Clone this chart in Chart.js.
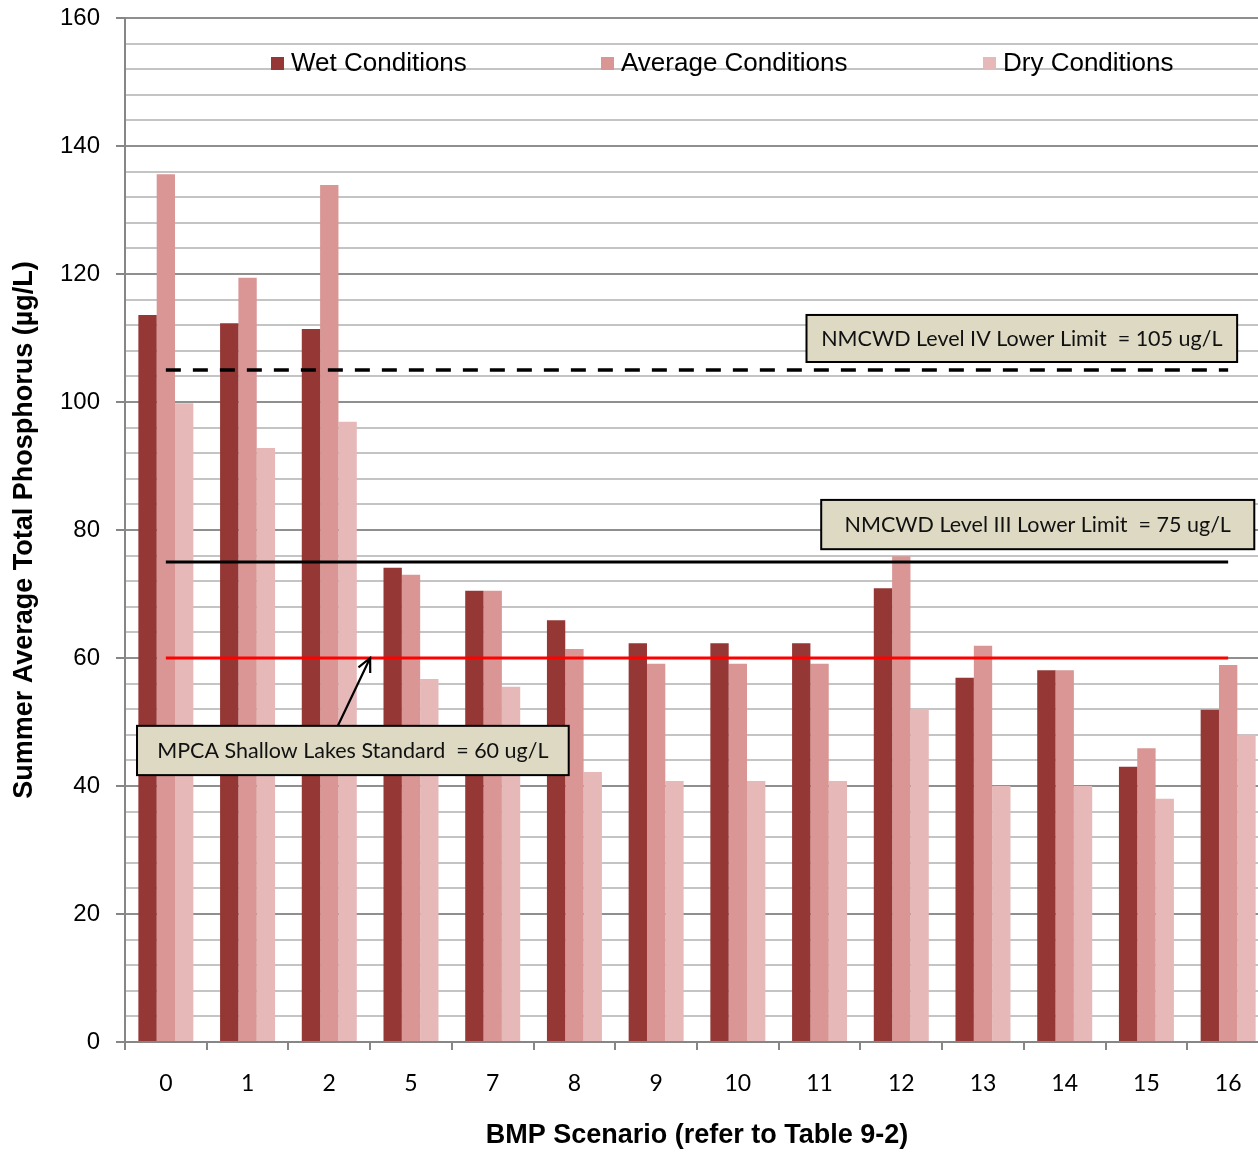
<!DOCTYPE html>
<html>
<head>
<meta charset="utf-8">
<script src="https://cdn.jsdelivr.net/npm/chart.js@4/dist/chart.umd.min.js"></script>
<style>
  html, body { margin: 0; padding: 0; background: #ffffff; overflow: hidden; }
  #wrap { width: 1258px; height: 1152px; overflow: hidden; position: relative; }
  canvas { display: block; }
</style>
</head>
<body>
<div id="wrap"><canvas id="c" width="1272" height="1152"></canvas></div>
<script>
// BMP scenarios and modelled summer-average total phosphorus (ug/L)
const scenarios = ['0', '1', '2', '5', '7', '8', '9', '10', '11', '12', '13', '14', '15', '16'];
const wetConditions     = [113.6, 112.3, 111.4, 74.1, 70.5, 65.9, 62.3, 62.3, 62.3, 70.9, 56.9, 58.1, 43.0, 51.9];
const averageConditions = [135.6, 119.4, 133.9, 73.0, 70.5, 61.4, 59.1, 59.1, 59.1, 75.9, 61.9, 58.1, 45.9, 58.9];
const dryConditions     = [ 99.8,  92.8,  96.9, 56.7, 55.5, 42.2, 40.8, 40.8, 40.8, 51.9, 40.0, 40.0, 38.0, 48.0];

// Reference limits
const levelIVLimit = 105;
const levelIIILimit = 75;
const shallowLakesStandard = 60;

// Labelled y ticks (minor gridlines every 4)
const yTickLabels = [0, 20, 40, 60, 80, 100, 120, 140, 160];

const constant = (v) => scenarios.map(() => v);

// Callout boxes: x in category widths from the left edge of the plot, y in data units
const callouts = [
  { text: 'NMCWD Level IV Lower Limit  = ' + levelIVLimit + ' ug/L', x0: 8.34, x1: 13.61, yTop: 113.6, yBot: 106.25 },
  { text: 'NMCWD Level III Lower Limit  = ' + levelIIILimit + ' ug/L', x0: 8.52, x1: 13.82, yTop: 84.7, yBot: 77.0 },
  { text: 'MPCA Shallow Lakes Standard  = ' + shallowLakesStandard + ' ug/L', x0: 0.147, x1: 5.43, yTop: 49.4, yBot: 41.7,
    arrow: { fromX: 2.605, toX: 3.0, toY: shallowLakesStandard } }
];

const overlayPlugin = {
  id: 'overlay',
  afterDatasetsDraw(chart) {
    const ctx = chart.ctx;
    const area = chart.chartArea;
    const ys = chart.scales.y;
    const cw = (area.right - area.left) / scenarios.length;
    const px = (u) => area.left + u * cw;

    // legend inside the plot
    const legendX = [271, 601, 983];
    ctx.save();
    ctx.font = '26px "Liberation Sans", Arial, sans-serif';
    ctx.textBaseline = 'middle';
    ctx.textAlign = 'left';
    chart.data.datasets.filter(d => d.type !== 'line').forEach((d, i) => {
      ctx.fillStyle = d.backgroundColor;
      ctx.fillRect(legendX[i], 57, 13, 13);
      ctx.fillStyle = '#000000';
      ctx.fillText(d.label, legendX[i] + 20, 64);
    });
    ctx.restore();

    // callout boxes
    ctx.save();
    callouts.forEach(c => {
      const l = px(c.x0), r = px(c.x1);
      const t = ys.getPixelForValue(c.yTop), b = ys.getPixelForValue(c.yBot);
      if (c.arrow) {
        const x0 = px(c.arrow.fromX), y0 = t;
        const x1 = px(c.arrow.toX), y1 = ys.getPixelForValue(c.arrow.toY);
        const ang = Math.atan2(y1 - y0, x1 - x0);
        ctx.strokeStyle = '#000000';
        ctx.lineWidth = 2.2;
        ctx.beginPath();
        ctx.moveTo(x0, y0);
        ctx.lineTo(x1, y1);
        const hl = 15, ha = Math.PI / 7;
        ctx.moveTo(x1 - hl * Math.cos(ang - ha), y1 - hl * Math.sin(ang - ha));
        ctx.lineTo(x1, y1);
        ctx.lineTo(x1 - hl * Math.cos(ang + ha), y1 - hl * Math.sin(ang + ha));
        ctx.stroke();
      }
      ctx.fillStyle = '#ddd9c3';
      ctx.fillRect(l, t, r - l, b - t);
      ctx.strokeStyle = '#000000';
      ctx.lineWidth = 2;
      ctx.strokeRect(l, t, r - l, b - t);
      ctx.fillStyle = '#111111';
      ctx.font = '21.5px Lato, "Open Sans", sans-serif';
      ctx.textAlign = 'center';
      ctx.textBaseline = 'middle';
      ctx.fillText(c.text, (l + r) / 2, (t + b) / 2 + 1);
    });
    ctx.restore();
  }
};

const chart = new Chart(document.getElementById('c'), {
  data: {
    labels: scenarios,
    datasets: [
      { type: 'line', label: 'Level IV', data: constant(levelIVLimit), borderColor: '#000000', borderWidth: 3.5,
        borderDash: [15, 12], pointRadius: 0, fill: false, order: -1 },
      { type: 'line', label: 'Level III', data: constant(levelIIILimit), borderColor: '#000000', borderWidth: 3,
        pointRadius: 0, fill: false, order: -1 },
      { type: 'line', label: 'Shallow Lakes', data: constant(shallowLakesStandard), borderColor: '#ff0000', borderWidth: 3,
        pointRadius: 0, fill: false, order: -1 },
      { type: 'bar', label: 'Wet Conditions', data: wetConditions, backgroundColor: '#953735', order: 1 },
      { type: 'bar', label: 'Average Conditions', data: averageConditions, backgroundColor: '#d99694', order: 1 },
      { type: 'bar', label: 'Dry Conditions', data: dryConditions, backgroundColor: '#e6b9b8', order: 1 }
    ]
  },
  options: {
    responsive: false,
    animation: false,
    devicePixelRatio: 1,
    layout: { padding: { top: 18, right: 3, left: 0, bottom: 0 } },
    datasets: { bar: { categoryPercentage: 0.673, barPercentage: 1.0, borderWidth: 0 } },
    plugins: { legend: { display: false }, tooltip: { enabled: false } },
    scales: {
      x: {
        offset: true,
        grid: { offset: true, drawOnChartArea: false, drawTicks: true, tickLength: 8, color: '#868686', lineWidth: 2 },
        border: { color: '#868686', width: 2 },
        ticks: { color: '#000000', font: { family: 'Lato, "Open Sans", sans-serif', size: 23 }, padding: 20, maxRotation: 0 },
        title: { display: true, text: 'BMP Scenario (refer to Table 9-2)', color: '#000000',
          font: { family: '"Liberation Sans", Arial, sans-serif', size: 27, weight: 'bold' }, padding: { top: 0, bottom: 0 } },
        afterFit(scale) { scale.height = 110; scale.paddingLeft = 0; scale.paddingRight = 0; }
      },
      y: {
        min: 0, max: 160,
        grid: {
          color: (c) => (c.tick && yTickLabels.includes(c.tick.value)) ? '#8f8f8f' : '#c4c4c4',
          tickColor: (c) => (c.tick && yTickLabels.includes(c.tick.value)) ? '#868686' : 'rgba(0,0,0,0)',
          lineWidth: 2,
          tickLength: 9
        },
        border: { color: '#868686', width: 2 },
        ticks: {
          stepSize: 4, autoSkip: false, padding: 16, color: '#000000',
          font: { family: '"Liberation Sans", Arial, sans-serif', size: 24 },
          callback: (v) => yTickLabels.includes(v) ? String(v) : ''
        },
        title: { display: true, text: 'Summer Average Total Phosphorus (µg/L)', color: '#000000',
          font: { family: '"Liberation Sans", Arial, sans-serif', size: 27, weight: 'bold' }, padding: { top: 8, bottom: 0 } },
        afterFit(scale) { scale.width = 125; scale.paddingTop = 0; scale.paddingBottom = 0; }
      }
    }
  },
  plugins: [overlayPlugin]
});
</script>
</body>
</html>
